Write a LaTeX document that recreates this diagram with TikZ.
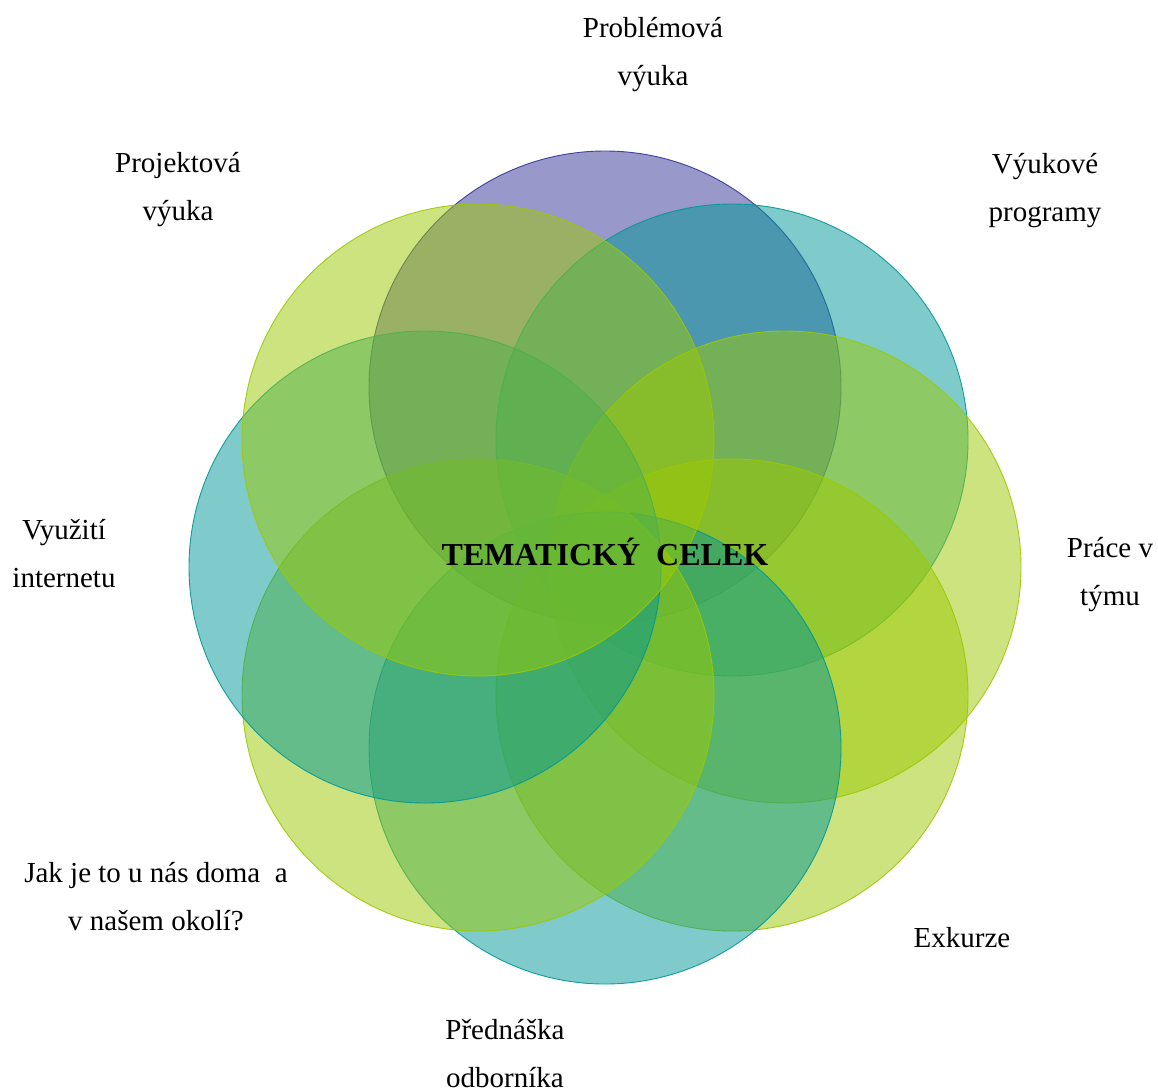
\documentclass[tikz,border=0pt]{standalone}
\usepackage{fontspec}
\setmainfont{Liberation Serif}
\definecolor{cpurple}{RGB}{51,51,153}
\definecolor{cteal}{RGB}{0,151,151}
\definecolor{clime}{RGB}{155,201,0}
\begin{document}
\begin{tikzpicture}[x=1pt,y=-1pt,
  ring/.style={fill=#1,fill opacity=0.5,draw=#1,draw opacity=0.9,line width=0.9pt},
  lbl/.style={anchor=base,align=center,inner sep=0pt,font=\fontsize{29}{48}\selectfont},
  title/.style={anchor=base,inner sep=0pt,font=\fontsize{32}{38}\selectfont\bfseries}]
\useasboundingbox (0,0) rectangle (1158,1090);
\fill[white] (0,0) rectangle (1158,1090);
% circles, clockwise from top
\path[ring=cpurple] (605,387) circle[radius=236];
\path[ring=cteal]   (732,440) circle[radius=236];
\path[ring=clime]   (785,567) circle[radius=236];
\path[ring=clime]   (732,695) circle[radius=236];
\path[ring=cteal]   (605,748) circle[radius=236];
\path[ring=clime]   (478,695) circle[radius=236];
\path[ring=cteal]   (425,567) circle[radius=236];
\path[ring=clime]   (478,440) circle[radius=236];
% labels (base anchor = baseline of last line)
\node[title] (center) at (605,565) {TEMATICKÝ~ CELEK};
\node[lbl] (problem) at (653,85) {Problémová\\výuka};
\node[lbl] (vyukove) at (1045,221) {Výukové\\programy};
\node[lbl] (prace) at (1110,605) {Práce v\\týmu};
\node[lbl] (exkurze) at (962,947) {Exkurze};
\node[lbl] (prednaska) at (505,1087) {Přednáška\\odborníka};
\node[lbl] (jak) at (156,930) {Jak je to u nás doma~ a\\v našem okolí?};
\node[lbl] (vyuziti) at (64,587) {Využití\\internetu};
\node[lbl] (projekt) at (178,220) {Projektová\\výuka};
\end{tikzpicture}
\end{document}
